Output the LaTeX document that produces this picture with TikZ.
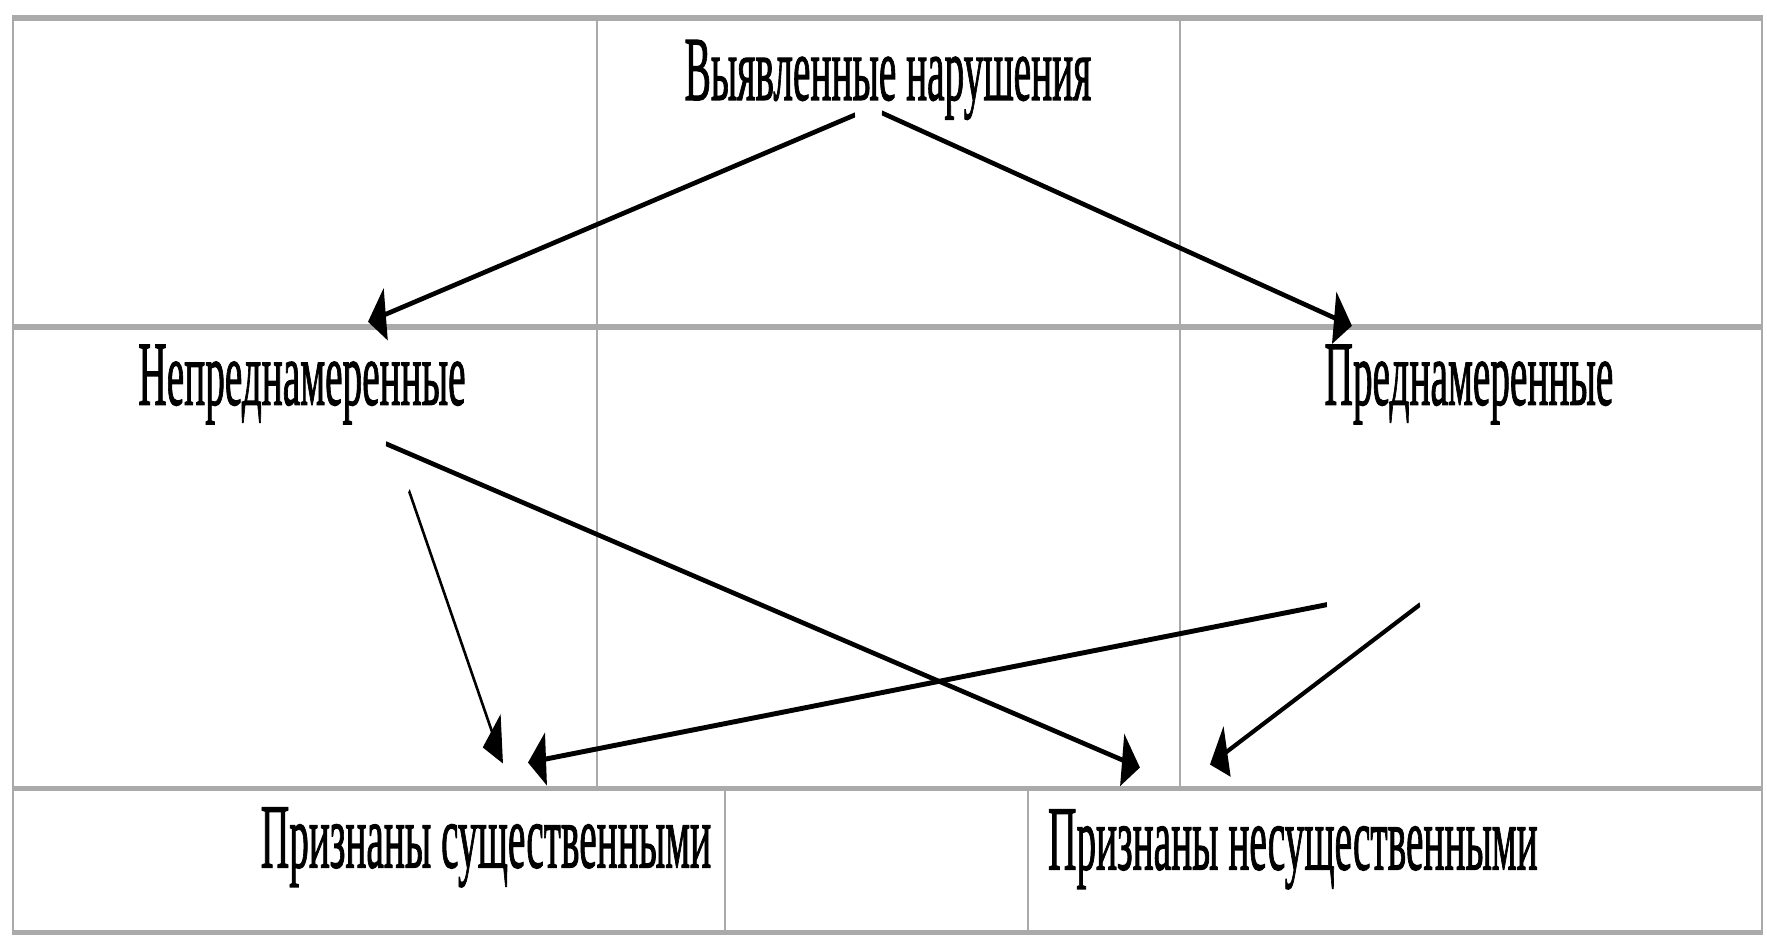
\documentclass[tikz,border=0pt]{standalone}
\usepackage{fontspec}
\setmainfont{Liberation Serif}
\newfontfamily\lblfont[FakeBold=1.6]{Liberation Serif}
\usetikzlibrary{arrows.meta}
\definecolor{tabgray}{RGB}{170,170,170}

\begin{document}
\begin{tikzpicture}[
  x=0.023256cm, y=-0.01cm,
  lbl/.style={font=\lblfont\fontsize{26pt}{30pt}\selectfont, inner sep=0pt, anchor=base},
  arr/.style={-{Triangle[length=0.42cm, width=0.52cm]}, line width=0.05cm},
  tabline/.style={draw=tabgray, line width=0.055cm}
]
  \useasboundingbox (0cm,0cm) rectangle (17.67cm,-9.36cm);
  \begin{scope}[transform canvas={xscale=0.43}]
  % --- table lines ---
  \draw[tabline] (13,18) rectangle (1762,933);
  \draw[tabline] (13,327) -- (1762,327);
  \draw[tabline] (13,789) -- (1762,789);
  \draw[tabline] (597,18) -- (597,789);
  \draw[tabline] (1180,18) -- (1180,789);
  \draw[tabline] (725,789) -- (725,933);
  \draw[tabline] (1028,789) -- (1028,933);

  % --- labels ---
  \node[lbl] (viol)   at (888,100)  {Выявленные нарушения};
  \node[lbl] (unint)  at (302,405)  {Непреднамеренные};
  \node[lbl] (intent) at (1469,405) {Преднамеренные};
  \node[lbl] (sig)    at (486,868)  {Признаны существенными};
  \node[lbl] (insig)  at (1293,870) {Признаны несущественными};

  % --- arrows ---
  \draw[arr] ([shift={(-33,15)}]viol.base)     -- ([shift={(66,-83)}]unint.base);
  \draw[arr] ([shift={(-6,13)}]viol.base)      -- ([shift={(-117,-79)}]intent.base);
  \draw[arr] ([shift={(84,39)}]unint.base)     -- ([shift={(-153,-102)}]insig.base);
  \draw[arr] ([shift={(107,86)}]unint.base)    -- ([shift={(17,-104)}]sig.base);
  \draw[arr] ([shift={(-142,200)}]intent.base) -- ([shift={(42,-105)}]sig.base);
  \draw[arr] ([shift={(-49,200)}]intent.base)  -- ([shift={(-83,-105)}]insig.base);
  \end{scope}
\end{tikzpicture}
\end{document}
